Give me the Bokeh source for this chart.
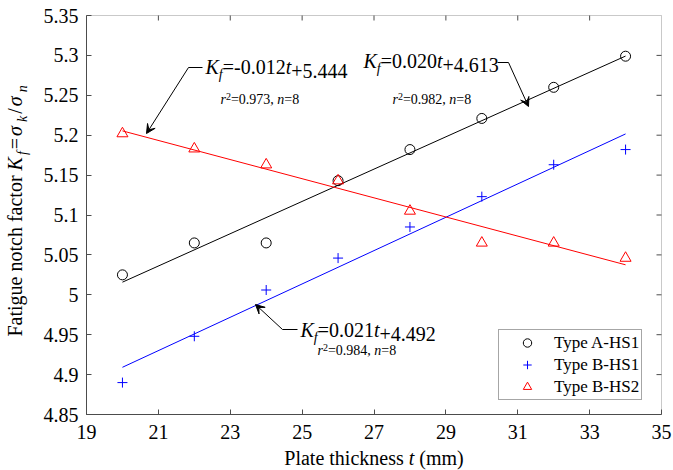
import math
import numpy as np
from bokeh.plotting import figure
from bokeh.models import (Label, Arrow, VeeHead, FixedTicker, Range1d, LinearAxis,
                          BoxAnnotation, CustomJSTickFormatter, Legend, LegendItem)
from bokeh.embed import file_html
from bokeh.resources import INLINE

# ---------------- data ----------------
t = [20, 22, 24, 26, 28, 30, 32, 34]
kf_a_hs1 = [5.025, 5.065, 5.065, 5.143, 5.182, 5.221, 5.260, 5.299]
kf_b_hs1 = [4.890, 4.948, 5.006, 5.046, 5.085, 5.123, 5.163, 5.182]
kf_b_hs2 = [5.202, 5.183, 5.163, 5.143, 5.105, 5.065, 5.065, 5.046]
series_names = ["Type A-HS1", "Type B-HS1", "Type B-HS2"]
x_ticks = [19, 21, 23, 25, 27, 29, 31, 33, 35]
y_ticks = [4.85, 4.9, 4.95, 5.0, 5.05, 5.1, 5.15, 5.2, 5.25, 5.3, 5.35]
# equation texts: slope, intercept, r2, n
eq_a_hs1 = ["0.020", "+4.613", "0.982", "8"]
eq_b_hs1 = ["0.021", "+4.492", "0.984", "8"]
eq_b_hs2 = ["-0.012", "+5.444", "0.973", "8"]

FONT = "Liberation Serif"
AXC = "#4d4d4d"
DESC = 0.216          # font descent (em) - labels are anchored at their bottom

W, H = 673, 470
# plot box in page pixels and its data limits
FL, FT, FR, FB = 86, 15, 661, 414
XR = (19, 35)
YR = (4.85, 5.35)
SX = (XR[1] - XR[0]) / (FR - FL)   # data units per pixel
SY = (YR[1] - YR[0]) / (FB - FT)


def px2x(px):
    return XR[0] + (px - FL) * SX


def py2y(py):
    return YR[1] - (py - FT) * SY


# the frame fills the whole canvas; the axes are pinned to the box edges
p = figure(width=W, height=H,
           x_range=Range1d(px2x(0), px2x(W)), y_range=Range1d(py2y(H), py2y(0)),
           output_backend="svg", toolbar_location=None, title=None,
           x_axis_location=None, y_axis_location=None,
           min_border=0, min_border_left=0, min_border_right=0,
           min_border_top=0, min_border_bottom=0)
p.background_fill_color = "white"
p.border_fill_color = "white"
p.xgrid.grid_line_color = None
p.ygrid.grid_line_color = None
p.outline_line_color = None

fmt = CustomJSTickFormatter(code="return String(Math.round(tick*100)/100);")


def make_axis(ticks, standoff, loc, bounds):
    ax = LinearAxis(fixed_location=loc, bounds=bounds)
    ax.ticker = FixedTicker(ticks=ticks)
    ax.formatter = fmt
    ax.axis_line_color = AXC
    ax.major_tick_line_color = AXC
    ax.major_tick_in = 5
    ax.major_tick_out = 0
    ax.minor_tick_line_color = None
    ax.major_label_text_font = FONT
    ax.major_label_text_color = "black"
    ax.major_label_text_font_size = "20px"
    ax.major_label_standoff = standoff
    return ax


p.add_layout(make_axis(x_ticks, 10, YR[0], XR), "below")
p.add_layout(make_axis(y_ticks, 8, XR[0], YR), "left")

p.add_layout(BoxAnnotation(left=XR[0], right=XR[1], bottom=YR[0], top=YR[1],
                           fill_alpha=0, line_color=AXC, line_width=1))

# mirrored inward ticks on the top and right edges of the box
for xt in x_ticks[1:-1]:
    p.add_layout(Arrow(x_start=xt, y_start=YR[1], x_end=xt, y_end=YR[1] - 5 * SY,
                       end=None, line_color=AXC, line_width=1))
for yt in y_ticks[1:-1]:
    p.add_layout(Arrow(x_start=XR[1], y_start=yt, x_end=XR[1] - 5 * SX, y_end=yt,
                       end=None, line_color=AXC, line_width=1))

# ---------------- fit lines ----------------
colors = ["black", "#0000ff", "#ff0000"]
series = [kf_a_hs1, kf_b_hs1, kf_b_hs2]
ta = np.array(t, dtype=float)
for ys, c in zip(series, colors):
    k, b = np.polyfit(ta, np.array(ys), 1)
    xs = [ta[0], ta[-1]]
    p.line(xs, [k * xs[0] + b, k * xs[1] + b], line_color=c, line_width=1)

# ---------------- markers ----------------
r_a = p.scatter(t, kf_a_hs1, marker="circle", size=10, fill_color=None,
                line_color="black", line_width=1)
r_b1 = p.scatter(t, kf_b_hs1, marker="cross", size=10, line_color="#0000ff",
                 line_width=1)
r_b2 = p.scatter(t, kf_b_hs2, marker="triangle", size=11, fill_color=None,
                 line_color="#ff0000", line_width=1)

legend = Legend(items=[LegendItem(label=series_names[0], renderers=[r_a]),
                       LegendItem(label=series_names[1], renderers=[r_b1]),
                       LegendItem(label=series_names[2], renderers=[r_b2])],
                location=(498, H - 400))
legend.label_text_font = FONT
legend.label_text_font_size = "17px"
legend.label_text_color = "black"
legend.border_line_color = AXC
legend.border_line_width = 1
legend.background_fill_color = "white"
legend.background_fill_alpha = 1
legend.padding = 2
legend.spacing = 1
legend.margin = 0
legend.glyph_width = 52
legend.glyph_height = 21
legend.label_height = 21
legend.label_standoff = 1
p.add_layout(legend)

# ---------------- rich text helper ----------------
W_REG = {' ': 250, '.': 250, ',': 250, '-': 333, '+': 564, '=': 564, '/': 278,
         '(': 333, ')': 333, 'F': 556, 'a': 444, 't': 278, 'i': 278, 'g': 500,
         'u': 500, 'e': 444, 'n': 500, 'o': 500, 'c': 444, 'h': 500, 'f': 333,
         'r': 333, 'P': 556, 'l': 278, 'k': 500, 's': 389, 'm': 778}
W_IT = {'K': 667, 'f': 278, 't': 278, 'r': 389, 'n': 500, 'k': 444, 'σ': 600}


def text_w(s, italic, size):
    tab = W_IT if italic else W_REG
    return sum((500 if ch.isdigit() else tab.get(ch, 500)) for ch in s) * size / 1000.0


def add_text(px, py, text, italic, size, angle=0.0):
    p.add_layout(Label(x=px2x(px), y=py2y(py), text=text, text_font=FONT,
                       text_font_style="italic" if italic else "normal",
                       text_font_size=f"{size}px", text_color="black",
                       text_baseline="bottom", text_align="left",
                       angle=angle))


def rich(px, py, pieces, vertical=False, gap=0.0):
    """Lay pieces out one after another on a baseline; spaces only advance the pen."""
    pos = 0.0
    for text, italic, size, shift in pieces:
        lead = len(text) - len(text.lstrip(" "))
        pos += lead * 250 * size / 1000.0
        core = text.strip(" ")
        if core:
            drop = shift + DESC * size
            if vertical:
                add_text(px + drop, py - pos, core, italic, size, math.pi / 2)
            else:
                add_text(px + pos, py + drop, core, italic, size)
            pos += text_w(core, italic, size) + gap
            trail = len(text) - len(text.rstrip(" "))
            pos += trail * 250 * size / 1000.0
    return pos


def piece_w(pieces):
    return sum(text_w(s, i, z) for s, i, z, _ in pieces)


def equation(px, py, eq, rx, ry):
    rich(px, py, [("K", True, 20, 0), ("f", True, 14, 5), ("=" + eq[0], False, 20, 0),
                  ("t", True, 20, 0), (eq[1], False, 20, 0)])
    rich(rx, ry, [("r", True, 14, 0), ("2", False, 10, -6),
                  ("=" + eq[2] + ", ", False, 14, 0), ("n", True, 14, 0),
                  ("=" + eq[3], False, 14, 0)])


equation(205, 73, eq_b_hs2, 220, 103)
equation(363, 67, eq_a_hs1, 392, 103)
equation(300, 336, eq_b_hs1, 317, 354)


def pointer(lx0, lx1, ly, tipx, tipy):
    p.add_layout(Arrow(x_start=px2x(lx0), y_start=py2y(ly), x_end=px2x(lx1),
                       y_end=py2y(ly), end=None, line_color="black", line_width=1))
    p.add_layout(Arrow(x_start=px2x(lx1), y_start=py2y(ly), x_end=px2x(tipx),
                       y_end=py2y(tipy), line_color="black", line_width=1,
                       end=VeeHead(size=9, fill_color="black", line_color="black",
                                   line_width=1)))


pointer(202, 188, 67, 146, 133)
pointer(497, 508, 62, 528, 106)
pointer(297, 282, 329, 255, 304)

# ---------------- axis titles ----------------
xl = [("Plate thickness ", False, 20, 0), ("t", True, 20, 0), (" (mm)", False, 20, 0)]
rich((FL + FR) / 2 - piece_w(xl) / 2, 464, xl)

yl_plain = [("Fatigue notch factor ", False, 20, 0)]
yl_math = [("K", True, 20, 0), ("f", True, 14, 5), ("=", False, 20, 0),
           ("σ", True, 20, 0), ("k", True, 14, 5), ("/", False, 20, 0),
           ("σ", True, 20, 0), ("n", True, 14, 5)]
y_start = 336
used = rich(21, y_start, yl_plain, vertical=True)
rich(21, y_start - used, yl_math, vertical=True, gap=2.0)

open("out.html", "w").write(file_html(p, INLINE))
